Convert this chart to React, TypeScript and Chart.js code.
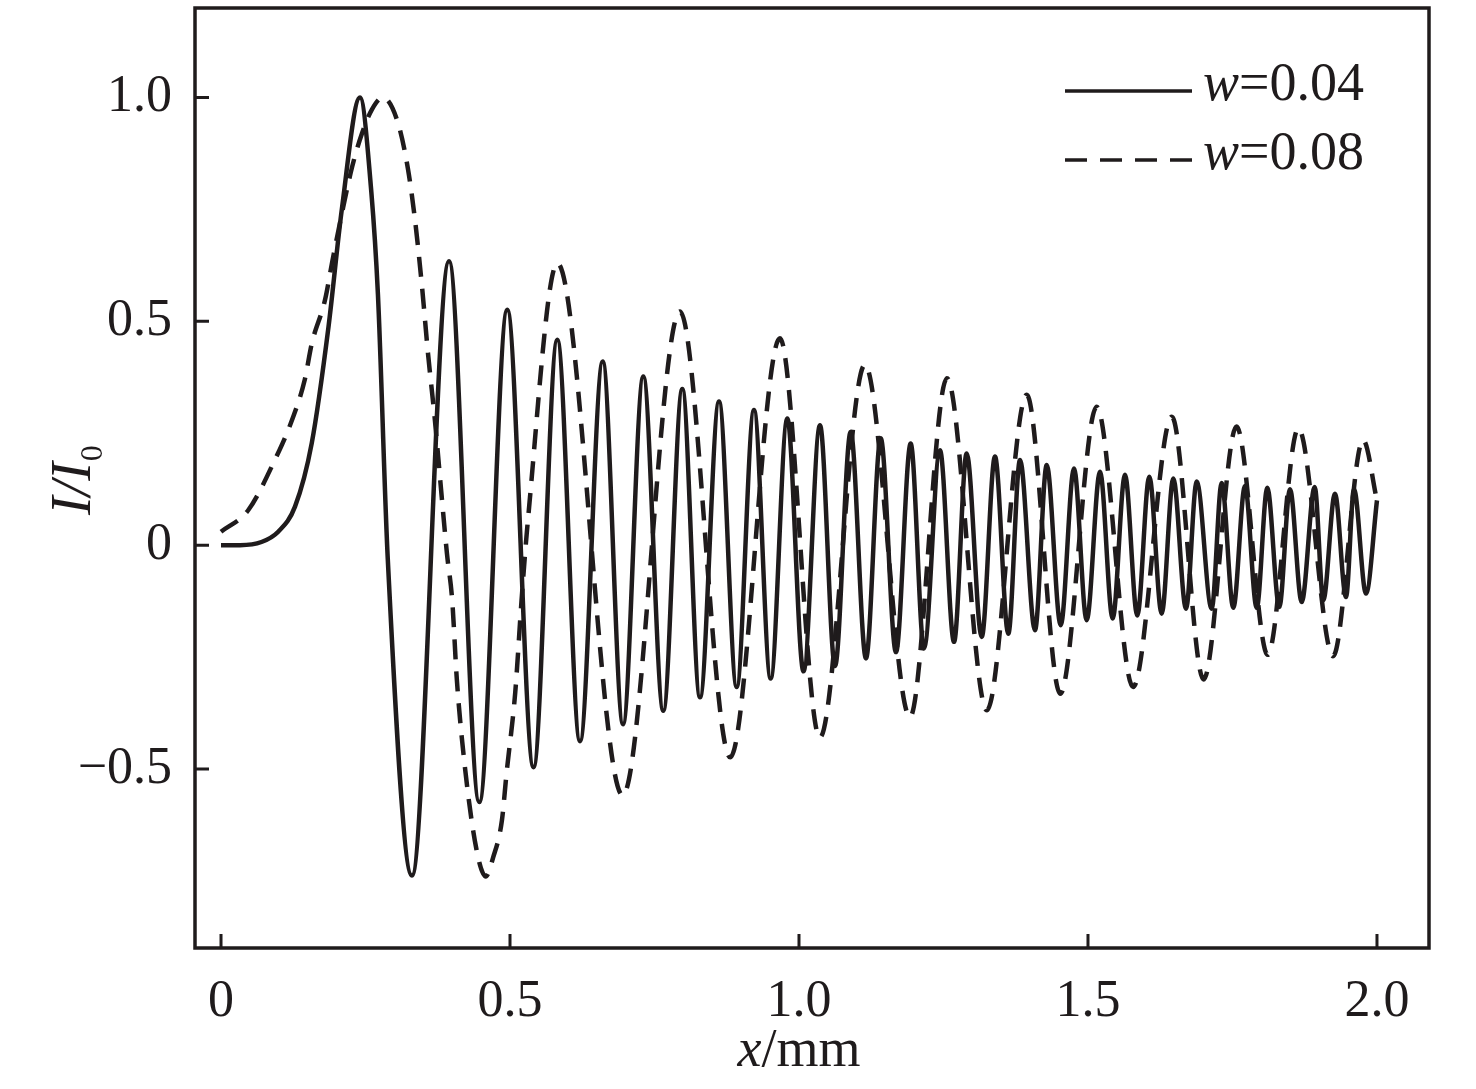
import { useEffect, useRef } from "react";
import { Chart, registerables, type ChartConfiguration, type Plugin } from "chart.js";

Chart.register(...registerables);

// w = 0.04 (solid): rise, main peak, then peaks/troughs
const narrowX = [
  0, 0.033, 0.07, 0.099, 0.128, 0.157, 0.186, 0.209, 0.2405, 0.26, 0.2715, 0.2885,
  0.3304, 0.3945, 0.4469, 0.4953, 0.5407, 0.5818, 0.6211, 0.6604, 0.6955, 0.7306,
  0.7652, 0.7981, 0.8287, 0.8616, 0.8922, 0.9221, 0.951, 0.9798, 1.0078, 1.0363,
  1.0623, 1.0894, 1.1159, 1.1413, 1.1678, 1.1932, 1.2163, 1.2439, 1.2682, 1.2901,
  1.3161, 1.3391, 1.3621, 1.3824, 1.4083, 1.4286, 1.4528, 1.4758, 1.4977, 1.5208,
  1.5427, 1.564, 1.5853, 1.6061, 1.6275, 1.6476, 1.6696, 1.6881, 1.714, 1.7313,
  1.7514, 1.7716, 1.7919, 1.8102, 1.831, 1.8495, 1.8697, 1.8922, 1.9071, 1.9273,
  1.9464, 1.9602, 1.981, 2.0,
];
const narrowY = [
  0, 0, 0.007, 0.03, 0.086, 0.228, 0.488, 0.75, 1.0, 0.79, 0.56, -0.03,
  -0.738, 0.634, -0.574, 0.526, -0.496, 0.459, -0.438, 0.41, -0.4, 0.377,
  -0.37, 0.349, -0.34, 0.321, -0.317, 0.302, -0.298, 0.283, -0.282, 0.268,
  -0.27, 0.253, -0.253, 0.239, -0.239, 0.227, -0.231, 0.212, -0.216, 0.205,
  -0.205, 0.198, -0.198, 0.19, -0.19, 0.179, -0.179, 0.171, -0.168, 0.164,
  -0.164, 0.157, -0.157, 0.153, -0.153, 0.149, -0.142, 0.142, -0.142, 0.139,
  -0.14, 0.132, -0.14, 0.128, -0.138, 0.125, -0.127, 0.13, -0.123, 0.115,
  -0.116, 0.125, -0.108, 0.1,
];

// w = 0.08 (dashed)
const wideX = [
  0, 0.047, 0.093, 0.123, 0.145, 0.157, 0.18, 0.192, 0.209, 0.227, 0.244, 0.261,
  0.28, 0.306, 0.3235, 0.3356, 0.3478, 0.358, 0.37, 0.3824, 0.391, 0.4, 0.408,
  0.422, 0.442, 0.458, 0.471, 0.486, 0.494, 0.509, 0.52, 0.531, 0.582, 0.695,
  0.794, 0.881, 0.967, 1.036, 1.114, 1.192, 1.256, 1.325, 1.394, 1.452, 1.515,
  1.578, 1.645, 1.7, 1.757, 1.811, 1.864, 1.924, 1.976, 2.0,
];
const wideY = [
  0.03, 0.078, 0.19, 0.28, 0.37, 0.45, 0.548, 0.63, 0.74, 0.846, 0.92, 0.973,
  1.0, 0.944, 0.84, 0.727, 0.577, 0.43, 0.28, 0.1, -0.02, -0.123, -0.3,
  -0.496, -0.68, -0.74, -0.697, -0.615, -0.51, -0.33, -0.123, 0.056, 0.63, -0.559,
  0.522, -0.474, 0.462, -0.43, 0.403, -0.384, 0.373, -0.369, 0.336, -0.332, 0.309,
  -0.317, 0.287, -0.3, 0.265, -0.245, 0.261, -0.248, 0.235, 0.1,
];

const xTicks = [0, 0.5, 1.0, 1.5, 2.0];
const xTickLabels = ["0", "0.5", "1.0", "1.5", "2.0"];
const yTicks = [-0.5, 0, 0.5, 1.0];
const yTickLabels = ["\u22120.5", "0", "0.5", "1.0"];
const seriesNames = ["=0.04", "=0.08"];

const ink = "#1f1b1c";
const serif = "'Liberation Serif', 'DejaVu Serif', serif";

function labelFor(values: number[], labels: string[], v: number) {
  const i = values.findIndex((t) => Math.abs(t - v) < 1e-6);
  return i >= 0 ? labels[i] : "";
}

const decorations: Plugin<"line"> = {
  id: "decorations",
  afterDraw(chart) {
    const { ctx, chartArea } = chart;
    const xs = chart.scales.x;
    const ys = chart.scales.y;
    ctx.save();
    ctx.strokeStyle = ink;
    ctx.fillStyle = ink;

    // frame
    ctx.lineWidth = 3.5;
    ctx.setLineDash([]);
    ctx.strokeRect(
      chartArea.left,
      chartArea.top,
      chartArea.right - chartArea.left,
      chartArea.bottom - chartArea.top
    );

    // inward ticks
    ctx.lineWidth = 3;
    ctx.beginPath();
    xTicks.forEach((v) => {
      const px = xs.getPixelForValue(v);
      ctx.moveTo(px, chartArea.bottom);
      ctx.lineTo(px, chartArea.bottom - 14);
    });
    yTicks.forEach((v) => {
      const py = ys.getPixelForValue(v);
      ctx.moveTo(chartArea.left, py);
      ctx.lineTo(chartArea.left + 14, py);
    });
    ctx.stroke();

    ctx.textBaseline = "alphabetic";
    ctx.textAlign = "left";

    // x title: x/mm
    ctx.font = `italic 54px ${serif}`;
    const wx = ctx.measureText("x").width;
    ctx.font = `54px ${serif}`;
    const wmm = ctx.measureText("/mm").width;
    const cx = xs.getPixelForValue(1.0);
    const startX = cx - (wx + wmm) / 2;
    ctx.font = `italic 54px ${serif}`;
    ctx.fillText("x", startX, 1066);
    ctx.font = `54px ${serif}`;
    ctx.fillText("/mm", startX + wx, 1066);

    // y title: I/I0
    ctx.save();
    ctx.translate(90, 515);
    ctx.rotate(-Math.PI / 2);
    ctx.font = `italic 56px ${serif}`;
    ctx.fillText("I/I", 0, 0);
    const off = ctx.measureText("I/I").width;
    ctx.font = `32px ${serif}`;
    ctx.fillText("0", off + 1, 12);
    ctx.restore();

    // legend
    const rows = [
      { y: 91, dash: [] as number[] },
      { y: 160, dash: [22, 13] },
    ];
    rows.forEach((row, i) => {
      ctx.lineWidth = 3.5;
      ctx.setLineDash(row.dash);
      ctx.beginPath();
      ctx.moveTo(1065, row.y);
      ctx.lineTo(1192, row.y);
      ctx.stroke();
      ctx.setLineDash([]);
      ctx.font = `italic 54px ${serif}`;
      ctx.fillText("w", 1203, row.y + 9);
      const ww = ctx.measureText("w").width;
      ctx.font = `54px ${serif}`;
      ctx.fillText(seriesNames[i], 1203 + ww, row.y + 9);
    });

    ctx.restore();
  },
};

export default function App() {
  const canvasRef = useRef<HTMLCanvasElement | null>(null);
  const chartRef = useRef<Chart<"line"> | null>(null);

  useEffect(() => {
    if (!canvasRef.current) return;

    const lineStyle = {
      borderColor: ink,
      borderWidth: 4.5,
      pointRadius: 0,
      fill: false,
      cubicInterpolationMode: "monotone" as const,
    };

    const config: ChartConfiguration<"line"> = {
      type: "line",
      data: {
        datasets: [
          {
            label: "w=0.04",
            data: narrowX.map((x, i) => ({ x, y: narrowY[i] })),
            ...lineStyle,
          },
          {
            label: "w=0.08",
            data: wideX.map((x, i) => ({ x, y: wideY[i] })),
            ...lineStyle,
            borderDash: [20, 12],
          },
        ],
      },
      options: {
        responsive: false,
        animation: false,
        layout: { padding: { top: 8, right: 47, left: 0, bottom: 0 } },
        plugins: {
          legend: { display: false },
          tooltip: { enabled: false },
        },
        scales: {
          x: {
            type: "linear",
            min: -0.045,
            max: 2.09,
            grid: { display: false, drawTicks: false },
            border: { display: false },
            afterBuildTicks: (scale) => {
              scale.ticks = xTicks.map((value) => ({ value }));
            },
            afterFit: (scale) => {
              scale.height = 141;
              scale.paddingLeft = 0;
              scale.paddingRight = 0;
            },
            ticks: {
              color: ink,
              padding: 23,
              font: { family: serif, size: 52 },
              callback: (v) => labelFor(xTicks, xTickLabels, Number(v)),
            },
          },
          y: {
            type: "linear",
            min: -0.9,
            max: 1.2,
            grid: { display: false, drawTicks: false },
            border: { display: false },
            afterBuildTicks: (scale) => {
              scale.ticks = yTicks.map((value) => ({ value }));
            },
            afterFit: (scale) => {
              scale.width = 195;
              scale.paddingTop = 0;
              scale.paddingBottom = 0;
            },
            ticks: {
              color: ink,
              padding: 23,
              font: { family: serif, size: 52 },
              callback: (v) => labelFor(yTicks, yTickLabels, Number(v)),
            },
          },
        },
      },
      plugins: [decorations],
    };

    chartRef.current?.destroy();
    chartRef.current = new Chart(canvasRef.current, config);

    return () => {
      chartRef.current?.destroy();
      chartRef.current = null;
    };
  }, []);

  return (
    <div
      style={{
        position: "fixed",
        left: 0,
        top: 0,
        width: 1476,
        height: 1089,
        background: "#ffffff",
      }}
    >
      <canvas
        ref={canvasRef}
        width={1476}
        height={1089}
        style={{ width: 1476, height: 1089 }}
        role="img"
        aria-label="I/I0 versus x/mm for w=0.04 and w=0.08"
      />
    </div>
  );
}
